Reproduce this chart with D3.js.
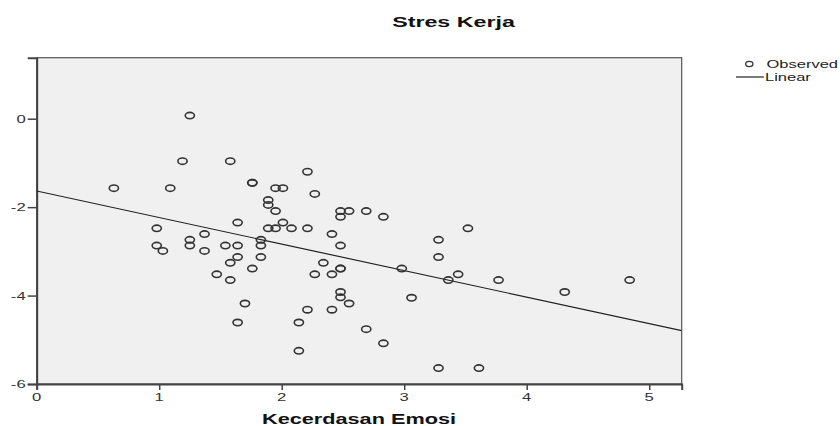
<!DOCTYPE html>
<html>
<head>
<meta charset="utf-8">
<script src="https://cdn.jsdelivr.net/npm/d3@7"></script>
<style>
  body { margin: 0; background: #fff; }
  svg { display: block; font-family: "Liberation Sans", Arial, sans-serif; }
</style>
</head>
<body>
<svg id="chart" width="840" height="426"></svg>
<script>
// Kecerdasan Emosi (x) vs Stres Kerja (y)
const emosi = [1.25, 1.19, 1.58, 0.63, 1.09, 1.76, 1.76, 1.95, 2.01, 2.21, 2.27, 1.89, 1.89, 1.95,
  2.48, 2.55, 2.48, 2.69, 2.83, 0.98, 1.64, 1.37, 1.25, 1.25, 0.98, 1.03, 1.37, 1.54, 1.64,
  1.83, 1.83, 1.89, 1.95, 2.01, 2.08, 2.21, 2.41, 2.48, 1.64, 1.83, 1.58, 2.34, 1.47, 1.76,
  1.58, 2.27, 2.41, 2.48, 2.48, 2.48, 2.48, 2.55, 1.70, 2.21, 2.41, 1.64, 2.14, 2.14, 2.69,
  2.83, 3.52, 3.28, 3.28, 2.98, 3.44, 3.36, 3.77, 4.84, 4.31, 3.06, 3.28, 3.61];
const stres = [0.07, -0.96, -0.96, -1.57, -1.57, -1.45, -1.45, -1.57, -1.57, -1.20, -1.70, -1.84, -1.95, -2.09,
  -2.09, -2.09, -2.22, -2.09, -2.22, -2.48, -2.35, -2.61, -2.74, -2.87, -2.87, -2.99, -2.99, -2.87, -2.87,
  -2.74, -2.87, -2.48, -2.48, -2.35, -2.48, -2.48, -2.61, -2.87, -3.13, -3.13, -3.26, -3.26, -3.52, -3.39,
  -3.65, -3.52, -3.52, -3.39, -3.39, -3.92, -4.04, -4.18, -4.18, -4.32, -4.32, -4.61, -4.61, -5.25, -4.76,
  -5.08, -2.48, -2.74, -3.13, -3.39, -3.52, -3.65, -3.65, -3.65, -3.92, -4.05, -5.64, -5.64];

// linear fit as drawn
const intercept = -1.635;
const slope = -0.60;

const xTicks = [0, 1, 2, 3, 4, 5];
const yTicks = [0, -2, -4, -6];
const xDomain = [0, 5.265];
const yDomain = [-6, 1.38];

const svg = d3.select('#chart');

const plotLeft = 36.7, plotRight = 681.7, plotTop = 57.7, plotBottom = 384;

const x = d3.scaleLinear().domain(xDomain).range([plotLeft, plotRight]);
const y = d3.scaleLinear().domain(yDomain).range([plotBottom, plotTop]);

// the original picture is stretched sideways, so text gets a wide scale
const addText = (g, tx, ty, str, opts) => {
  return g.append('text')
    .attr('transform', 'translate(' + tx + ',' + ty + ') scale(' + (opts.stretch || 1.45) + ',1)')
    .attr('text-anchor', opts.anchor || 'start')
    .attr('font-size', opts.size)
    .attr('font-weight', opts.weight || 'normal')
    .attr('fill', opts.fill || '#222')
    .text(str);
}

svg.append('rect')
  .attr('x', plotLeft).attr('y', plotTop)
  .attr('width', plotRight - plotLeft).attr('height', plotBottom - plotTop)
  .attr('fill', '#f0f0f0')
  .attr('stroke', '#555').attr('stroke-width', 1.2);

svg.append('defs').append('clipPath').attr('id', 'clip')
  .append('rect')
  .attr('x', plotLeft).attr('y', plotTop)
  .attr('width', plotRight - plotLeft).attr('height', plotBottom - plotTop);

// axes
const xAxis = svg.append('g')
  .attr('transform', 'translate(0,' + plotBottom + ')')
  .call(d3.axisBottom(x).tickValues(xTicks).tickSize(6).tickFormat(''));
xAxis.select('.domain').attr('stroke', '#444').attr('stroke-width', 2);
xAxis.selectAll('.tick line').attr('stroke', '#444').attr('stroke-width', 1.5);

const yAxis = svg.append('g')
  .attr('transform', 'translate(' + plotLeft + ',0)')
  .call(d3.axisLeft(y).tickValues(yTicks).tickSize(9).tickFormat(''));
yAxis.select('.domain').attr('stroke', '#444').attr('stroke-width', 2);
yAxis.selectAll('.tick line').attr('stroke', '#444').attr('stroke-width', 1.5);

xTicks.forEach(t => addText(svg, x(t), plotBottom + 17, String(t), {size: 11.5, anchor: 'middle', fill: '#333'}));
yTicks.forEach(t => addText(svg, plotLeft - 11, y(t) + 4, String(t), {size: 11.5, anchor: 'end', fill: '#333'}));

// regression line
svg.append('line')
  .attr('clip-path', 'url(#clip)')
  .attr('x1', x(xDomain[0])).attr('y1', y(intercept + slope * xDomain[0]))
  .attr('x2', x(xDomain[1])).attr('y2', y(intercept + slope * xDomain[1]))
  .attr('stroke', '#222').attr('stroke-width', 1.2);

// observed points
svg.append('g').selectAll('ellipse')
  .data(emosi.map((v, i) => [v, stres[i]]))
  .enter().append('ellipse')
  .attr('cx', d => x(d[0]))
  .attr('cy', d => y(d[1]))
  .attr('rx', 4.6).attr('ry', 3.2)
  .attr('fill', 'none')
  .attr('stroke', '#333').attr('stroke-width', 1.6);

// titles
addText(svg, 453.5, 26.5, 'Stres Kerja', {size: 15, anchor: 'middle', weight: 'bold', fill: '#111', stretch: 1.55});
addText(svg, 359, 424, 'Kecerdasan Emosi', {size: 14, anchor: 'middle', weight: 'bold', fill: '#111', stretch: 1.55});

// legend
svg.append('ellipse')
  .attr('cx', 749.3).attr('cy', 64).attr('rx', 3.6).attr('ry', 2.6)
  .attr('fill', 'none').attr('stroke', '#333').attr('stroke-width', 1.3);
addText(svg, 766.5, 68, 'Observed', {size: 11, fill: '#222', stretch: 1.5});
svg.append('line')
  .attr('x1', 736).attr('x2', 764).attr('y1', 77).attr('y2', 77)
  .attr('stroke', '#222').attr('stroke-width', 1.2);
addText(svg, 765, 81, 'Linear', {size: 11, fill: '#222', stretch: 1.5});
</script>
</body>
</html>
